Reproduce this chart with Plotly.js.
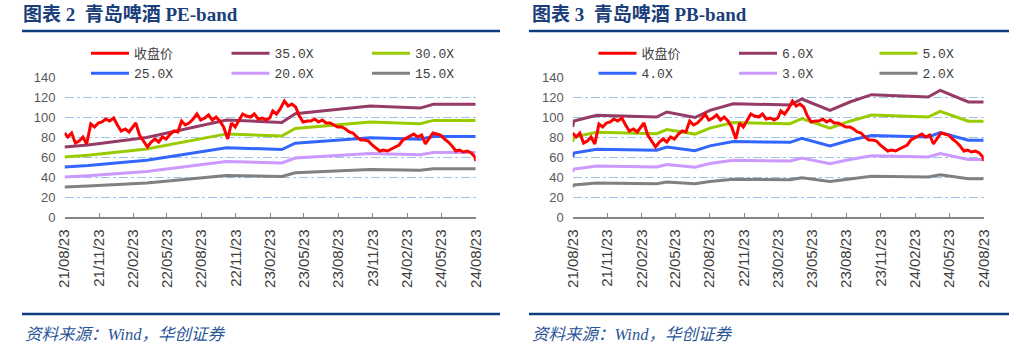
<!DOCTYPE html>
<html><head><meta charset="utf-8">
<script src="https://cdn.plot.ly/plotly-3.0.1.min.js"></script>
<style>html,body{margin:0;padding:0;background:#fff;}#chart{width:1017px;height:355px;}</style>
</head><body><div id="chart"></div>
<script>
// ---------- data ----------
const priceDates = ["2021-08-23","2021-09-01","2021-09-11","2021-09-21","2021-10-01","2021-10-11","2021-10-21","2021-11-01","2021-11-11","2021-11-21","2021-12-01","2021-12-11","2021-12-21","2022-01-01","2022-01-11","2022-01-21","2022-02-01","2022-02-11","2022-02-21","2022-03-01","2022-03-11","2022-03-21","2022-04-01","2022-04-11","2022-04-21","2022-05-01","2022-05-11","2022-05-21","2022-06-01","2022-06-11","2022-06-21","2022-07-01","2022-07-11","2022-07-21","2022-08-01","2022-08-11","2022-08-21","2022-09-01","2022-09-11","2022-09-21","2022-10-01","2022-10-11","2022-10-21","2022-11-01","2022-11-11","2022-11-21","2022-12-01","2022-12-11","2022-12-21","2023-01-01","2023-01-11","2023-01-21","2023-02-01","2023-02-11","2023-02-21","2023-03-01","2023-03-11","2023-03-21","2023-04-01","2023-04-11","2023-04-21","2023-05-01","2023-05-11","2023-05-21","2023-06-01","2023-06-11","2023-06-21","2023-07-01","2023-07-11","2023-07-21","2023-08-01","2023-08-11","2023-08-21","2023-09-01","2023-09-11","2023-09-21","2023-10-01","2023-10-11","2023-10-21","2023-11-01","2023-11-11","2023-11-21","2023-12-01","2023-12-11","2023-12-21","2024-01-01","2024-01-11","2024-01-21","2024-02-01","2024-02-11","2024-02-21","2024-03-01","2024-03-11","2024-03-21","2024-04-01","2024-04-11","2024-04-21","2024-05-01","2024-05-11","2024-05-21","2024-06-01","2024-06-11","2024-06-21","2024-07-01","2024-07-11","2024-07-21","2024-08-01","2024-08-11","2024-08-21","2024-08-23"];
const closePrice = [84,80,84,74,76,80,73,93,90,94,95,98,96,99,92,86,88,85,90,94,82,76,70,75,78,75,80,78,83,86,85,96,92,94,98,103,97,99,102,97,100,96,90,78,94,90,96,103,101,100,103,98,99,97,99,106,103,108,116,111,113,110,101,95,96,96,98,95,97,94,94,92,90,90,88,85,84,80,77,77,76,72,69,66,67,66,68,70,72,77,79,81,83,80,82,73,78,84,83,82,78,75,71,66,67,65,66,64,60,56];

const peDates = ["2021-08-23","2021-10-25","2022-03-30","2022-10-29","2023-03-25","2023-04-30","2023-11-16","2024-03-28","2024-05-02","2024-08-23"];
const pe35 = [70,72.1,79.5,97,94.5,103.3,111,108.9,112.7,112.7];
const pe30 = [60,61.8,68.1,83.1,81,88.5,95.1,93.3,96.6,96.6];
const pe25 = [50,51.5,56.8,69.3,67.5,73.8,79.3,77.8,80.5,80.5];
const pe20 = [40,41.2,45.4,55.4,54,59,63.4,62.2,64.4,64.4];
const pe15 = [30,30.9,34.1,41.6,40.5,44.3,47.6,46.7,48.3,48.3];

const pbDates = ["2021-08-23","2021-08-26","2021-10-26","2022-04-04","2022-05-01","2022-07-15","2022-08-24","2022-10-25","2023-03-26","2023-04-26","2023-07-10","2023-09-01","2023-10-29","2024-03-28","2024-04-29","2024-07-13","2024-08-23"];
const pb6 = [90,96,101.7,100,105,99.5,106.7,113.3,112,118,106.7,115,122.3,120,126.7,115,115];
const pb5 = [75,80,84.7,83.3,87.5,82.9,88.9,94.4,93.3,98.3,88.9,95.8,101.9,100,105.6,95.8,95.8];
const pb4 = [60,64,67.8,66.7,70,66.3,71.1,75.5,74.7,78.7,71.1,76.7,81.5,80,84.5,76.7,76.7];
const pb3 = [45,48,50.9,50,52.5,49.8,53.4,56.7,56,59,53.4,57.5,61.2,60,63.4,57.5,57.5];
const pb2 = [30,32,33.9,33.3,35,33.2,35.6,37.8,37.3,39.3,35.6,38.3,40.8,40,42.2,38.3,38.3];

const tickDates = ["2021-08-23","2021-11-23","2022-02-23","2022-05-23","2022-08-23","2022-11-23","2023-02-23","2023-05-23","2023-08-23","2023-11-23","2024-02-23","2024-05-23","2024-08-23"];
const tickLabels = ["21/08/23","21/11/23","22/02/23","22/05/23","22/08/23","22/11/23","23/02/23","23/05/23","23/08/23","23/11/23","24/02/23","24/05/23","24/08/23"];

const peNames = ["35.0X","30.0X","25.0X","20.0X","15.0X"];
const pbNames = ["6.0X","5.0X","4.0X","3.0X","2.0X"];
const priceName = "收盘价";
const titles = ["图表 2  青岛啤酒 PE-band", "图表 3  青岛啤酒 PB-band"];
const sourceText = "资料来源：Wind，华创证券";

// ---------- style ----------
const W = 1017, H = 355;
const colors = ["#953B66","#99CC00","#3366FF","#CC99FF","#808080"];
const red = "#FF0000";

function band(x, y, name, color, xa, ya, leg, rank){
  return {x:x, y:y, name:name, type:"scatter", mode:"lines", xaxis:xa, yaxis:ya, legend:leg, legendrank:rank,
          line:{color:color, width:3}, hoverinfo:"skip"};
}
const traces = [];
const peVals = [pe35,pe30,pe25,pe20,pe15];
const pbVals = [pb6,pb5,pb4,pb3,pb2];
for (let i=0;i<5;i++){
  traces.push(band(peDates, peVals[i], peNames[i], colors[i], "x", "y", i<2?"legend":"legend2", i+2));
}
traces.push(band(priceDates, closePrice, priceName, red, "x", "y", "legend", 1));
for (let i=0;i<5;i++){
  traces.push(band(pbDates, pbVals[i], pbNames[i], colors[i], "x2", "y2", i<2?"legend3":"legend4", i+2));
}
traces.push(band(priceDates, closePrice, priceName, red, "x2", "y2", "legend3", 1));

const yDom = [1-217/H, 1-77/H];
function xax(d0,d1,anchor){
  return {domain:[d0/W,d1/W], anchor:anchor, type:"date", range:["2021-08-23","2024-08-23"],
    tickmode:"array", tickvals:tickDates, ticktext:tickLabels, tickangle:-90,
    ticks:"inside", ticklen:4, tickcolor:"#868686", tickwidth:1, ticklabelstandoff:5,
    showline:true, linecolor:"#868686", linewidth:1.5, showgrid:false, zeroline:false,
    tickfont:{family:"Liberation Sans, Arial", size:15, color:"#404040"}, automargin:false, fixedrange:true};
}
function yax(anchor){
  return {domain:yDom, anchor:anchor, range:[0,140], tickmode:"linear", tick0:0, dtick:20,
    showgrid:true, gridcolor:"#9DC3E6", griddash:"dashdot", gridwidth:1, zeroline:false, showline:false,
    ticks:"", ticklabelstandoff:8,
    tickfont:{family:"Liberation Sans, Arial", size:13, color:"#595959"}, automargin:false, fixedrange:true};
}
const legFont = {family:'"Liberation Mono", "Noto Sans CJK SC", monospace', size:13, color:"#404040"};
function leg(px, py){
  return {orientation:"h", x:px/W, y:1-py/H, xanchor:"left", yanchor:"middle", font:legFont,
    entrywidth:87.5, entrywidthmode:"pixels", itemwidth:38, bgcolor:"rgba(0,0,0,0)", borderwidth:0,
    traceorder:"normal", tracegroupgap:0};
}

const titleFont = {family:'"Liberation Serif", "Noto Sans CJK SC", serif', size:19, color:"#1B3F7B"};
const srcFont = {family:'"Liberation Serif", "Noto Sans CJK SC", serif', size:16.5, color:"#2A5597"};
function ann(text, px, py, font){
  return {text:text, x:px/W, y:1-py/H, xref:"paper", yref:"paper", xanchor:"left", yanchor:"middle", showarrow:false, font:font};
}
function hline(x0,x1,py,w){
  return {type:"line", xref:"paper", yref:"paper", x0:x0/W, x1:x1/W, y0:1-py/H, y1:1-py/H, line:{color:"#0E3C80", width:w}};
}

const layout = {
  width:W, height:H, margin:{l:0,r:0,t:0,b:0,pad:0,autoexpand:false}, paper_bgcolor:"#fff", plot_bgcolor:"rgba(0,0,0,0)",
  showlegend:true,
  xaxis: xax(64.5,475.7,"y"), yaxis: yax("x"),
  xaxis2: xax(572.7,983.7,"y2"), yaxis2: yax("x2"),
  legend: leg(86,53.3), legend2: leg(86,73.3), legend3: leg(593.5,53.3), legend4: leg(593.5,73.3),
  annotations:[
    ann("<b>"+titles[0]+"</b>", 21, 15, titleFont),
    ann("<b>"+titles[1]+"</b>", 530, 15, titleFont),
    ann("<i>"+sourceText+"</i>", 23, 334, srcFont),
    ann("<i>"+sourceText+"</i>", 530, 334, srcFont)
  ],
  shapes:[hline(22,500,31,2.5), hline(529,1009,31,2.5), hline(22,500,314,2.5), hline(529,1009,314,2.5)]
};
Plotly.newPlot("chart", traces, layout, {staticPlot:true, displayModeBar:false});
</script></body></html>
